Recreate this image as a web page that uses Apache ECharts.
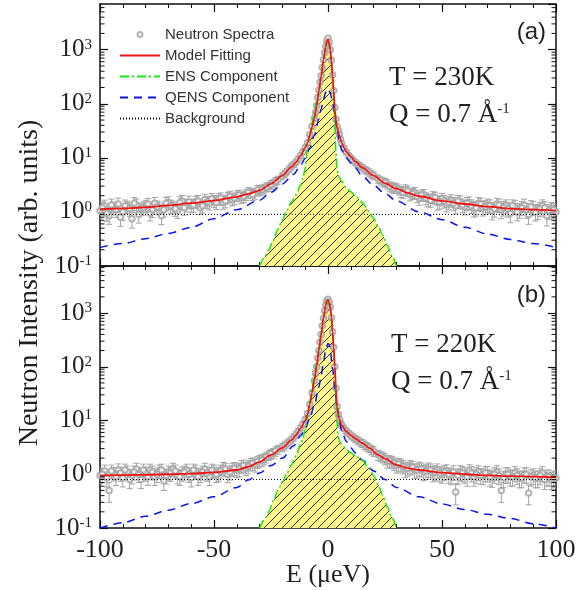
<!DOCTYPE html>
<html><head><meta charset="utf-8">
<script src="https://cdn.jsdelivr.net/npm/echarts@6/dist/echarts.min.js"></script>
<style>html,body{margin:0;padding:0;background:#fff}#c{width:587px;height:590px}</style>
</head><body><div id="c"></div>
<script>
// ---------- data ----------
const xMin = -100, xMax = 100;
const yMinA = 0.1, yMaxA = 7000;
const yMinB = 0.1, yMaxB = 7500;
const bgLevelA = 0.9;
const bgLevelB = 0.8;
const legendNames = ['Neutron Spectra','Model Fitting','ENS Component','QENS Component','Background'];

// spectra: [E, intensity, error]
const specA = [
[-100,1.05,0.3],[-98,1.3,0.35],[-96,0.85,0.26],[-94,1.2,0.32],[-92,1.4,0.4],[-90,1.0,0.3],[-88,1.25,0.33],[-86,0.75,0.25],[-84,1.35,0.38],[-82,1.15,0.3],[-80,1.3,0.34],[-78,0.95,0.27],[-76,1.45,0.4],[-74,1.2,0.32],[-72,1.1,0.3],[-70,1.5,0.4],[-68,1.25,0.33],[-66,1.05,0.29],[-64,1.6,0.42],[-62,1.35,0.35],[-60,1.3,0.34],[-58,1.55,0.4],[-56,1.2,0.31],[-54,1.7,0.43],[-52,1.45,0.37],[-50,1.6,0.4],[-48,1.75,0.42],[-46,1.5,0.38],[-44,1.85,0.45],[-42,1.7,0.41],[-40,2.0,0.46],[-38,1.85,0.43],[-36,2.1,0.47],[-34,2.25,0.5],[-32,2.2,0.48],[-30,2.5,0.52],[-28,2.7,0.55],[-26,2.95,0.57],[-24,3.4,0.62],[-22,3.9,0.66],
[-20,4.6,0.7],[-19,5.1,0.75],[-18,5.6,0.78],[-17,6.2,0.85],[-16,6.9,0.9],[-15,7.6,0.95],[-14,8.4,1.0],[-13,9.5,1.1],[-12,11,1.2],[-11,13,1.3],[-10,15.5,1.4],[-9,19,1.6],[-8,27,1.9],[-7,38,2.3],
[-6,54,2.7],[-5.5,70,3.1],[-5,92,3.5],[-4.5,130,4.2],[-4,180,5],[-3.5,250,6],[-3,330,7],[-2.5,470,8.5],[-2,650,10],[-1.5,880,12],[-1,1150,13],[-0.5,1450,15],[0,1620,16],[0.5,1380,15],[1,1000,13],[1.5,640,10],[2,340,8],[2.5,175,5.5],[3,85,3.6],[3.5,52,2.8],[4,38,2.4],[4.5,32,2.2],[5,27,2.0],[5.5,22,1.8],[6,18.5,1.6],
[7,15,1.5],[8,12.8,1.35],[9,11,1.2],[10,10,1.15],[11,9,1.1],[12,8.2,1.0],[13,7.6,0.98],[14,7.1,0.95],[15,6.6,0.9],[16,6.1,0.87],[17,5.8,0.85],[18,5.4,0.82],[19,5.0,0.8],[20,4.7,0.78],
[22,4.1,0.72],[24,3.6,0.68],[26,3.3,0.65],[28,2.9,0.6],[30,2.8,0.6],[32,2.4,0.55],[34,2.6,0.57],[36,2.1,0.5],[38,2.3,0.53],[40,1.8,0.47],[42,2.1,0.5],[44,1.7,0.45],[46,1.9,0.47],[48,1.5,0.42],[50,1.75,0.45],[52,1.4,0.4],[54,1.65,0.43],[56,1.3,0.38],[58,1.55,0.42],[60,1.25,0.37],[62,1.5,0.4],[64,1.15,0.35],[66,1.45,0.39],[68,1.2,0.36],[70,1.35,0.38],[72,1.05,0.34],[74,1.4,0.38],[76,1.1,0.35],[78,1.3,0.37],[80,0.95,0.32],[82,1.25,0.36],[84,1.1,0.34],[86,1.35,0.37],[88,0.9,0.31],[90,1.2,0.35],[92,1.05,0.33],[94,1.3,0.37],[96,0.85,0.3],[98,1.15,0.34],[100,1.0,0.32]
];
const specAExtra = [
[-99,1.2,0.33],[-97,0.95,0.28],[-95,1.35,0.37],[-93,1.1,0.31],[-91,0.8,0.26],[-89,1.3,0.36],[-87,1.15,0.32],[-85,1.45,0.39],[-83,0.9,0.28],[-81,1.2,0.33],[-79,1.4,0.38],[-77,1.1,0.31],[-75,1.25,0.34],[-73,0.85,0.27],[-71,1.45,0.39],[-69,1.3,0.35],[-67,1.15,0.32],[-65,1.5,0.4],[-63,1.2,0.33],[-61,1.55,0.41],[-59,1.35,0.36],[-57,1.6,0.41],[-55,1.3,0.35],[-53,1.55,0.4],[-51,1.75,0.43],[-49,1.5,0.39],[-47,1.8,0.44],[-45,1.6,0.41],[-43,1.95,0.46],[-41,1.8,0.44],[-39,2.05,0.47],[-37,1.95,0.46],[-35,2.3,0.5],[-33,2.1,0.48],[-31,2.55,0.53],[-29,2.6,0.54],[-27,2.9,0.57],[-25,3.2,0.6],[-23,3.7,0.64],
[23,3.8,0.65],[25,3.5,0.63],[27,3.0,0.58],[29,2.75,0.56],[31,2.6,0.55],[33,2.3,0.52],[35,2.45,0.53],[37,2.2,0.5],[39,1.95,0.47],[41,2.05,0.48],[43,1.8,0.45],[45,1.65,0.43],[47,1.85,0.46],[49,1.55,0.42],[51,1.6,0.42],[53,1.5,0.41],[55,1.45,0.4],[57,1.6,0.42],[59,1.35,0.38],[61,1.45,0.4],[63,1.3,0.37],[65,1.2,0.36],[67,1.4,0.39],[69,1.25,0.36],[71,1.3,0.37],[73,1.15,0.35],[75,1.35,0.38],[77,1.2,0.36],[79,1.15,0.35],[81,1.3,0.37],[83,1.0,0.32],[85,1.2,0.35],[87,1.1,0.34],[89,1.25,0.36],[91,1.0,0.32],[93,1.15,0.34],[95,1.2,0.35],[97,1.05,0.33],[99,1.1,0.34]
];
const specB = [
[-100,0.95,0.28],[-98,1.15,0.33],[-96,0.5,0.2],[-94,1.05,0.3],[-92,1.2,0.36],[-90,0.85,0.27],[-88,1.1,0.32],[-86,0.95,0.29],[-84,1.25,0.35],[-82,0.8,0.26],[-80,1.05,0.31],[-78,1.2,0.34],[-76,0.9,0.28],[-74,1.15,0.33],[-72,0.75,0.25],[-70,1.1,0.32],[-68,1.25,0.35],[-66,0.95,0.29],[-64,1.05,0.31],[-62,1.2,0.34],[-60,0.85,0.27],[-58,1.15,0.33],[-56,1.0,0.3],[-54,1.25,0.35],[-52,0.9,0.28],[-50,1.15,0.33],[-48,1.05,0.31],[-46,1.3,0.36],[-44,1.0,0.3],[-42,1.25,0.35],[-40,1.2,0.34],[-38,1.4,0.38],[-36,1.3,0.36],[-34,1.55,0.4],[-32,1.5,0.4],[-30,1.8,0.44],[-28,1.95,0.46],[-26,2.3,0.5],[-24,2.5,0.52],[-22,2.9,0.56],
[-20,3.2,0.58],[-19,3.4,0.6],[-18,3.7,0.63],[-17,4.0,0.66],[-16,4.4,0.7],[-15,4.9,0.74],[-14,5.5,0.78],[-13,6.3,0.84],[-12,7.3,0.9],[-11,8.5,0.98],[-10,10.5,1.1],[-9,13.5,1.3],[-8,20,1.6],[-7,33,2.1],
[-6,55,2.7],[-5.5,75,3.2],[-5,100,3.8],[-4.5,145,4.6],[-4,200,5.5],[-3.5,290,6.6],[-3,400,7.8],[-2.5,580,9.4],[-2,800,11],[-1.5,1100,13],[-1,1400,15],[-0.5,1700,16],[0,1800,17],[0.5,1600,16],[1,1300,15],[1.5,820,12],[2,450,9],[2.5,230,6.2],[3,100,4],[3.5,40,2.5],[4,18,1.6],[4.5,13,1.3],[5,10.5,1.15],[5.5,9,1.05],[6,8.2,1.0],
[7,7.2,0.92],[8,6.4,0.87],[9,5.8,0.82],[10,5.3,0.78],[11,4.9,0.75],[12,4.6,0.72],[13,4.3,0.7],[14,4.0,0.67],[15,3.8,0.65],[16,3.5,0.62],[17,3.3,0.6],[18,3.1,0.58],[19,2.85,0.56],[20,2.7,0.55],
[22,2.3,0.5],[24,2.1,0.48],[26,1.75,0.44],[28,1.7,0.43],[30,1.45,0.4],[32,1.5,0.41],[34,1.25,0.37],[36,1.4,0.39],[38,1.2,0.36],[40,1.3,0.38],[42,1.1,0.34],[44,1.25,0.37],[46,1.05,0.33],[48,1.2,0.36],[50,1.0,0.32],[52,1.15,0.35],[54,0.95,0.31],[56,0.47,0.2],[58,1.1,0.34],[60,1.0,0.32],[62,1.15,0.35],[64,0.9,0.3],[66,1.1,0.34],[68,0.95,0.31],[70,1.05,0.33],[72,0.85,0.28],[74,1.1,0.34],[76,0.5,0.2],[78,1.0,0.32],[80,0.9,0.3],[82,1.05,0.33],[84,0.85,0.29],[86,1.0,0.32],[88,0.45,0.18],[90,0.95,0.31],[92,0.85,0.29],[94,1.05,0.33],[96,0.9,0.3],[98,0.8,0.28],[100,0.85,0.29]
];
const specBExtra = [
[-99,1.0,0.3],[-97,0.85,0.27],[-95,1.15,0.33],[-93,0.9,0.28],[-91,1.05,0.31],[-89,1.2,0.34],[-87,0.8,0.26],[-85,1.1,0.32],[-83,1.0,0.3],[-81,1.2,0.34],[-79,0.9,0.28],[-77,1.1,0.32],[-75,1.0,0.3],[-73,1.2,0.34],[-71,0.95,0.29],[-69,1.05,0.31],[-67,1.15,0.33],[-65,0.9,0.28],[-63,1.1,0.32],[-61,1.0,0.3],[-59,1.2,0.34],[-57,0.9,0.28],[-55,1.1,0.32],[-53,1.05,0.31],[-51,1.2,0.34],[-49,1.0,0.3],[-47,1.15,0.33],[-45,1.25,0.35],[-43,1.1,0.32],[-41,1.3,0.36],[-39,1.25,0.35],[-37,1.45,0.38],[-35,1.4,0.38],[-33,1.6,0.41],[-31,1.7,0.42],[-29,1.85,0.45],[-27,2.1,0.48],[-25,2.4,0.51],[-23,2.7,0.54],
[23,2.2,0.49],[25,1.95,0.46],[27,1.8,0.44],[29,1.6,0.42],[31,1.55,0.41],[33,1.4,0.39],[35,1.3,0.37],[37,1.35,0.38],[39,1.2,0.36],[41,1.25,0.36],[43,1.15,0.35],[45,1.2,0.35],[47,1.1,0.34],[49,1.05,0.33],[51,1.1,0.34],[53,1.0,0.32],[55,1.1,0.34],[57,0.95,0.31],[59,1.05,0.33],[61,0.9,0.3],[63,1.05,0.33],[65,1.0,0.32],[67,0.95,0.31],[69,1.05,0.33],[71,0.9,0.3],[73,1.0,0.32],[75,0.95,0.31],[77,0.85,0.29],[79,1.0,0.32],[81,0.9,0.3],[83,0.95,0.31],[85,0.85,0.29],[87,1.0,0.32],[89,0.9,0.3],[91,0.85,0.29],[93,0.95,0.31],[95,0.8,0.28],[97,0.9,0.3],[99,0.85,0.29]
];

const fitA = [[-100,1.12],[-90,1.16],[-80,1.22],[-70,1.32],[-60,1.45],[-50,1.62],[-40,1.9],[-35,2.15],[-30,2.5],[-25,3.3],[-20,4.7],[-16,6.8],[-14,8.3],[-12,11],[-10,15.5],[-9,19],[-8,26],[-7,37],[-6,53],[-5,88],[-4,175],[-3,325],[-2,640],[-1,1150],[-0.5,1420],[0,1550],[0.5,1350],[1,1000],[1.5,620],[2,330],[2.5,170],[3,78],[3.5,48],[4,36],[5,26],[6,19],[7,15.5],[8,13],[10,10.5],[12,8.5],[15,6.6],[20,4.7],[25,3.4],[30,2.7],[35,2.25],[40,1.95],[50,1.6],[60,1.4],[70,1.25],[80,1.15],[90,1.1],[100,1.06]];
const ensA = [[-30,0.1],[-28,0.14],[-26,0.2],[-24,0.3],[-22,0.48],[-20,0.72],[-18,1.08],[-16,1.55],[-14,2.1],[-12,3.1],[-11,4.2],[-10,6.5],[-9.5,10],[-9,16],[-8,28],[-7,45],[-6,70],[-5,110],[-4,180],[-3,310],[-2,620],[-1,1100],[-0.5,1330],[0,1420],[0.5,1250],[1,900],[1.5,560],[2,300],[2.5,140],[3,45],[3.5,12],[4,6],[4.5,4.8],[5,4.3],[6,3.7],[8,2.8],[10,2.35],[12,2.0],[15,1.5],[18,1.02],[20,0.76],[22,0.55],[24,0.37],[26,0.24],[28,0.155],[30,0.1]];
const qensA = [[-100,0.22],[-90,0.26],[-80,0.32],[-70,0.4],[-60,0.52],[-50,0.75],[-40,1.1],[-30,1.65],[-25,2.3],[-20,3.3],[-15,5],[-12,7.3],[-10,9.8],[-8,15],[-6,26],[-4,52],[-3,80],[-2,120],[-1,165],[0,190],[1,160],[2,105],[3,60],[4,33],[5,20],[6,14],[8,10],[10,8],[12,6.5],[15,4.6],[20,3.1],[25,2.2],[30,1.6],[40,1.0],[50,0.72],[60,0.52],[70,0.39],[80,0.31],[90,0.26],[100,0.22]];

const fitB = [[-100,0.94],[-90,0.96],[-80,0.98],[-70,1.0],[-60,1.03],[-50,1.08],[-40,1.2],[-35,1.38],[-30,1.7],[-25,2.3],[-20,3.1],[-16,4.3],[-14,5.4],[-12,7.2],[-10,10],[-9,13],[-8,20],[-7,33],[-6,56],[-5,100],[-4,200],[-3,400],[-2,800],[-1,1400],[-0.5,1680],[0,1750],[0.5,1600],[1,1300],[1.5,850],[2,450],[2.5,230],[3,100],[3.5,38],[4,18],[5,10.5],[6,8.2],[8,6.3],[10,5.3],[12,4.6],[15,3.8],[18,3.1],[22,2.3],[25,1.95],[30,1.5],[35,1.3],[40,1.2],[50,1.07],[60,1.0],[70,0.95],[80,0.92],[90,0.9],[100,0.88]];
const ensB = [[-30,0.1],[-28,0.14],[-26,0.2],[-24,0.32],[-22,0.5],[-20,0.72],[-18,1.05],[-16,1.5],[-14,2.2],[-12,3.6],[-11,4.8],[-10,6.8],[-9,12],[-8,22],[-7,40],[-6,70],[-5,120],[-4,220],[-3,420],[-2,800],[-1,1300],[-0.5,1500],[0,1550],[0.5,1400],[1,1150],[1.5,750],[2,430],[2.5,210],[3,85],[3.5,28],[4,9],[4.5,5],[5,4.2],[6,3.6],[8,2.9],[10,2.5],[12,2.2],[15,1.85],[18,1.3],[20,0.95],[22,0.64],[24,0.4],[26,0.25],[28,0.16],[30,0.1]];
const qensB = [[-100,0.1],[-90,0.125],[-80,0.165],[-70,0.215],[-60,0.285],[-50,0.38],[-40,0.57],[-35,0.78],[-30,1.05],[-25,1.45],[-20,2.0],[-15,3.4],[-12,5.2],[-10,7],[-8,11],[-6,19],[-4,42],[-3,70],[-2,120],[-1,210],[0,270],[0.5,260],[1,200],[2,95],[3,38],[4,17],[5,9.5],[6,6.5],[8,4.1],[10,3.1],[12,2.5],[15,1.85],[20,1.15],[25,0.8],[30,0.57],[40,0.38],[50,0.28],[60,0.22],[70,0.18],[80,0.15],[90,0.12],[100,0.1]];

// ---------- rendering ----------
const SERIF = 'Liberation Serif', SANS = 'Liberation Sans';
const TXT = '#231f20';
const GRAY = '#a3a3a3';

function hatch(){
  const c=document.createElement('canvas'); c.width=9; c.height=9;
  const g=c.getContext('2d');
  g.fillStyle='#fff68c'; g.fillRect(0,0,9,9);
  g.strokeStyle='#000'; g.lineWidth=0.8; g.beginPath();
  g.moveTo(0,9); g.lineTo(9,0);
  g.moveTo(-1,1); g.lineTo(1,-1);
  g.moveTo(8,10); g.lineTo(10,8);
  g.stroke();
  return c;
}
const hatchImg = hatch();

function logLabel(v){
  const e=Math.log10(v), r=Math.round(e);
  if(Math.abs(e-r)>1e-6) return '';
  return '{b|10}{e|'+r+'}';
}
function minorValues(max){
  const out=[];
  for(let e=-1;e<=3;e++) for(let m=2;m<=9;m++){const v=m*Math.pow(10,e); if(v<max) out.push([0,v]);}
  return out;
}
const axisLineStyle={show:true,onZero:false,lineStyle:{color:'#111',width:1.5}};
function xAx(grid,pos,labels){
  return {type:'value',gridIndex:grid,position:pos,min:xMin,max:xMax,interval:50,
    axisLine:axisLineStyle,
    axisTick:{show:true,inside:true,length:8,lineStyle:{color:'#111',width:1.2}},
    minorTick:{show:true,splitNumber:5,length:4,lineStyle:{color:'#111',width:1}},
    splitLine:{show:false},
    axisLabel:{show:labels,margin:9,fontFamily:SERIF,fontSize:26,color:TXT,
      formatter:v=>String(v)}};
}
function yAx(grid,pos,labels,ymin,ymax){
  return {type:'log',logBase:10,gridIndex:grid,position:pos,min:ymin,max:ymax,
    axisLine:axisLineStyle,
    axisTick:{show:true,inside:true,length:8,lineStyle:{color:'#111',width:1.2}},
    splitLine:{show:false},
    axisLabel:{show:labels,margin:8,formatter:logLabel,showMaxLabel:false,
      rich:{b:{fontFamily:SERIF,fontSize:25,color:TXT},
            e:{fontFamily:SERIF,fontSize:15,color:TXT,verticalAlign:'top'}}}};
}
function errBars(spec,xi,yi){
  return {type:'custom',xAxisIndex:xi,yAxisIndex:yi,clip:true,silent:true,z:2,
    data:spec.map(d=>[d[0],d[1]-d[2],d[1]+d[2]]),
    encode:{x:0,y:[1,2]},
    renderItem:function(params,api){
      const x=api.value(0);
      const a=api.coord([x,api.value(1)]), b=api.coord([x,api.value(2)]);
      const w=3, st={stroke:GRAY,lineWidth:1};
      return {type:'group',children:[
        {type:'line',shape:{x1:a[0],y1:a[1],x2:b[0],y2:b[1]},style:st},
        {type:'line',shape:{x1:a[0]-w,y1:a[1],x2:a[0]+w,y2:a[1]},style:st},
        {type:'line',shape:{x1:b[0]-w,y1:b[1],x2:b[0]+w,y2:b[1]},style:st}]};
    }};
}
function minorTicks(max,xi,yi){
  return {type:'custom',xAxisIndex:xi,yAxisIndex:yi,silent:true,z:10,
    data:minorValues(max),encode:{x:0,y:1},
    renderItem:function(params,api){
      const cs=params.coordSys;
      const y=api.coord([0,api.value(1)])[1];
      const st={stroke:'#111',lineWidth:1};
      return {type:'group',children:[
        {type:'line',shape:{x1:cs.x,y1:y,x2:cs.x+4.5,y2:y},style:st},
        {type:'line',shape:{x1:cs.x+cs.width-4.5,y1:y,x2:cs.x+cs.width,y2:y},style:st}]};
    }};
}
function panel(spec,fit,ens,qens,bg,xi,yi,ymax){
  return [
    {name:'ensArea',type:'line',xAxisIndex:xi,yAxisIndex:yi,data:ens,smooth:0.3,smoothMonotone:'x',
      symbol:'none',silent:true,z:1,lineStyle:{opacity:0},
      areaStyle:{origin:'start',opacity:1,color:{image:hatchImg,repeat:'repeat'}}},
    errBars(spec,xi,yi),
    {name:'Neutron Spectra',type:'scatter',xAxisIndex:xi,yAxisIndex:yi,
      data:spec.map(d=>[d[0],d[1]]),symbol:'emptyCircle',symbolSize:5.5,z:3,silent:true,
      itemStyle:{color:GRAY,borderColor:GRAY,borderWidth:1}},
    {name:'Background',type:'line',xAxisIndex:xi,yAxisIndex:yi,data:[[xMin,bg],[xMax,bg]],
      symbol:'none',z:4,silent:true,lineStyle:{color:'#000',width:1,type:[1,2]},itemStyle:{color:'#000'}},
    {name:'QENS Component',type:'line',xAxisIndex:xi,yAxisIndex:yi,data:qens,smooth:0.3,smoothMonotone:'x',
      symbol:'none',z:5,silent:true,lineStyle:{color:'#0a14f0',width:1.5,type:[8,6]},itemStyle:{color:'#0a14f0'}},
    {name:'ENS Component',type:'line',xAxisIndex:xi,yAxisIndex:yi,data:ens,smooth:0.3,smoothMonotone:'x',
      symbol:'none',z:6,silent:true,lineStyle:{color:'#14e614',width:1.5,type:[9,3,2,3]},itemStyle:{color:'#14e614'}},
    {name:'Model Fitting',type:'line',xAxisIndex:xi,yAxisIndex:yi,data:fit,smooth:0.3,smoothMonotone:'x',
      symbol:'none',z:7,silent:true,lineStyle:{color:'#f01414',width:1.8},itemStyle:{color:'#f01414'}},
    minorTicks(ymax,xi,yi)
  ];
}

const legendData = legendNames.map((n,i)=> i===0 ? {name:n} : {name:n,itemStyle:{opacity:0}});

const chart=echarts.init(document.getElementById('c'),null,{renderer:'canvas'});
chart.setOption({
  animation:false,
  backgroundColor:'#fff',
  grid:[{left:100,top:4,width:456,height:262},{left:100,top:266,width:456,height:262}],
  xAxis:[xAx(0,'bottom',false),xAx(0,'top',false),xAx(1,'bottom',true),xAx(1,'top',false)],
  yAxis:[yAx(0,'left',true,yMinA,yMaxA),yAx(0,'right',false,yMinA,yMaxA),yAx(1,'left',true,yMinB,yMaxB),yAx(1,'right',false,yMinB,yMaxB)],
  legend:{orient:'vertical',left:114,top:22,itemWidth:40,itemHeight:5,itemGap:6,selectedMode:false,
    data:legendData,textStyle:{fontFamily:SANS,fontSize:15,color:'#333'}},
  series:[].concat(panel(specA.concat(specAExtra),fitA,ensA,qensA,bgLevelA,0,0,yMaxA),
                   panel(specB.concat(specBExtra),fitB,ensB,qensB,bgLevelB,2,2,yMaxB)),
  graphic:[
    {type:'text',x:30,y:283,rotation:Math.PI/2,style:{text:'Neutron Intensity (arb. units)',fontFamily:SERIF,fontSize:28,fill:TXT,textAlign:'center',textVerticalAlign:'middle',verticalAlign:'middle'}},
    {type:'text',x:328,y:575,style:{text:'E (\u03bceV)',fontFamily:SERIF,fontSize:26,fill:TXT,textAlign:'center',textVerticalAlign:'middle',verticalAlign:'middle'}},
    {type:'text',x:546,y:32,style:{text:'(a)',fontFamily:SANS,fontSize:24,fill:TXT,textAlign:'right',textVerticalAlign:'middle',verticalAlign:'middle'}},
    {type:'text',x:546,y:295,style:{text:'(b)',fontFamily:SANS,fontSize:24,fill:TXT,textAlign:'right',textVerticalAlign:'middle',verticalAlign:'middle'}},
    {type:'text',x:389,y:78,style:{text:'T = 230K',fontFamily:SERIF,fontSize:27,fill:TXT,textAlign:'left',textVerticalAlign:'middle',verticalAlign:'middle'}},
    {type:'text',x:389,y:115,style:{text:'{a|Q = 0.7 \u00c5}{s|-1}',textAlign:'left',textVerticalAlign:'middle',verticalAlign:'middle',
      rich:{a:{fontFamily:SERIF,fontSize:27,fill:TXT,color:TXT},s:{fontFamily:SERIF,fontSize:15,fill:TXT,color:TXT,verticalAlign:'top'}}}},
    {type:'text',x:391,y:345,style:{text:'T = 220K',fontFamily:SERIF,fontSize:27,fill:TXT,textAlign:'left',textVerticalAlign:'middle',verticalAlign:'middle'}},
    {type:'text',x:391,y:382,style:{text:'{a|Q = 0.7 \u00c5}{s|-1}',textAlign:'left',textVerticalAlign:'middle',verticalAlign:'middle',
      rich:{a:{fontFamily:SERIF,fontSize:27,fill:TXT,color:TXT},s:{fontFamily:SERIF,fontSize:15,fill:TXT,color:TXT,verticalAlign:'top'}}}}
  ]
});
</script></body></html>
